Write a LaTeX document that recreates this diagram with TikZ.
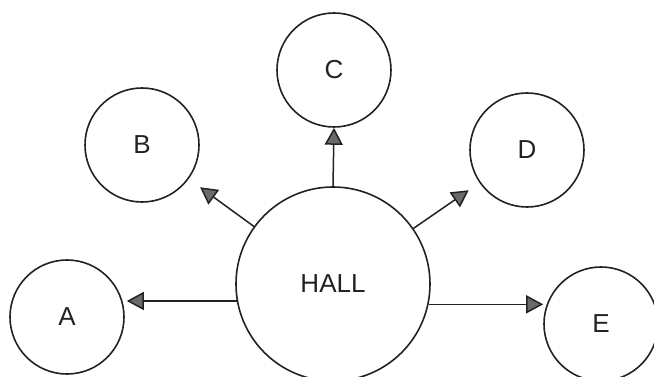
\documentclass[tikz,border=0pt]{standalone}
\usepackage{fontspec}
\setmainfont{Liberation Sans}
\usepackage{tikz}
\usetikzlibrary{arrows.meta}
\definecolor{inkgray}{HTML}{222222}
\definecolor{tipgray}{HTML}{6A6A6A}

\tikzset{
  room/.style={circle, draw=inkgray, line width=1.6pt, minimum size=114pt,
    inner sep=0pt, font=\fontsize{26}{30}\selectfont, text=inkgray},
  flow/.style={draw=inkgray, line width=1.5pt,
    -{Triangle[length=17pt, width=18pt, fill=tipgray]}}
}

\begin{document}
\begin{tikzpicture}[x=1pt, y=-1pt]
  % Marco (pixeles de la imagen, origen arriba a la izquierda)
  \useasboundingbox (0,0) rectangle (654,377);

  % Sala central
  \node[room, minimum size=194pt] (hall) at (333,284) {HALL};

  % Salas alrededor
  \foreach \n/\x/\y in {A/67/317, B/142/145, C/334/70, D/527/150, E/601/324}{
    \node[room] (\n) at (\x,\y) {\n};
  }

  % Flechas desde la sala central
  \draw[flow] (hall.north) -- (C.south);
  \draw[flow, shorten >=14pt] (hall) -- (B);
  \draw[flow, shorten >=13pt] (hall) -- (D);
  \draw[flow, shorten >=2pt] (hall.190) -- (hall.190 -| A.east);
  \draw[flow] (hall.-12) -- (hall.-12 -| E.west);
\end{tikzpicture}
\end{document}
